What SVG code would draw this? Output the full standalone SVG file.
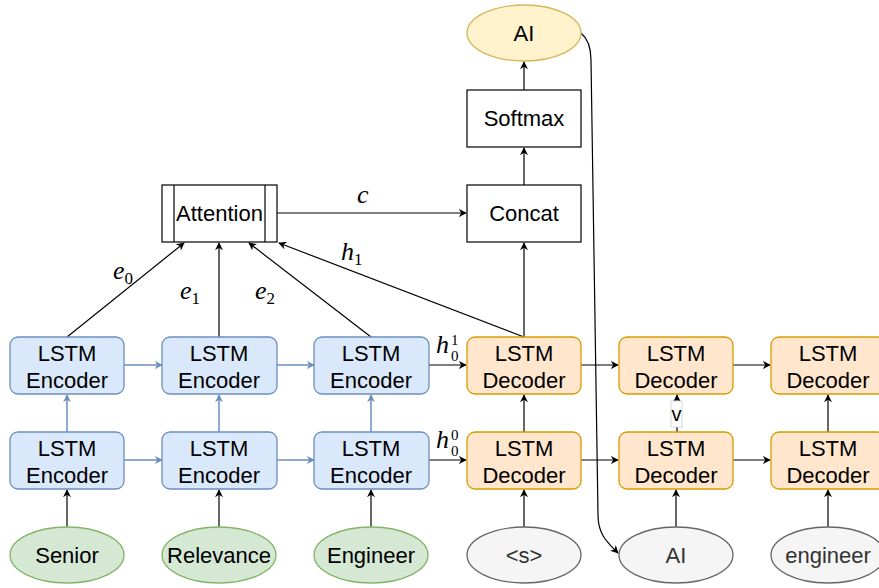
<svg xmlns="http://www.w3.org/2000/svg" width="879" height="588" viewBox="0 0 879 588">
<defs>
<marker id="ab" viewBox="0 0 10 10" refX="9" refY="5" markerWidth="8" markerHeight="8" markerUnits="userSpaceOnUse" orient="auto"><path d="M0,0 L10,5 L0,10 L3,5 Z" fill="#000"/></marker>
<marker id="ag" viewBox="0 0 10 10" refX="9" refY="5" markerWidth="8" markerHeight="8" markerUnits="userSpaceOnUse" orient="auto"><path d="M0,0 L10,5 L0,10 L3,5 Z" fill="#6c8ebf"/></marker>
</defs>
<style>
.enc{fill:#dae8fc;stroke:#6c8ebf;stroke-width:1.3}
.dec{fill:#ffe6cc;stroke:#d79b00;stroke-width:1.3}
.grn{fill:#d5e8d4;stroke:#82b366;stroke-width:1.3}
.gry{fill:#f5f5f5;stroke:#666666;stroke-width:1.3}
.yel{fill:#fff2cc;stroke:#d6b656;stroke-width:1.3}
.box{fill:#fff;stroke:#000;stroke-width:1.2}
.t{font-family:"Liberation Sans",Arial,sans-serif;font-size:22px;fill:#000;text-anchor:middle}
.tg{fill:#333}
.m{font-family:"Liberation Serif","Times New Roman",serif;font-style:italic;font-size:26px;fill:#000}
.s{font-family:"Liberation Serif","Times New Roman",serif;font-size:17px;font-style:normal}
.k{stroke:#000;stroke-width:1.2;fill:none;marker-end:url(#ab)}
.b{stroke:#6c8ebf;stroke-width:1.5;fill:none;marker-end:url(#ag)}
</style>
<g id="connectors">
<path class="b" d="M124,365 L162,365"/>
<path class="b" d="M277,365 L314,365"/>
<path class="b" d="M124,460 L162,460"/>
<path class="b" d="M277,460 L314,460"/>
<path class="b" d="M67,432 L67,395"/>
<path class="b" d="M219,432 L219,395"/>
<path class="b" d="M371,432 L371,395"/>
<path class="k" d="M67,527 L67,490"/>
<path class="k" d="M219,527 L219,490"/>
<path class="k" d="M371,527 L371,490"/>
<path class="k" d="M524,527 L524,490"/>
<path class="k" d="M676,527 L676,490"/>
<path class="k" d="M828,527 L828,490"/>
<path class="k" d="M67,337 L184,243"/>
<path class="k" d="M219,337 L219,243"/>
<path class="k" d="M371,337 L249,243"/>
<path class="k" d="M524,337 L279,243"/>
<path class="k" d="M277,213 L466,213"/>
<path class="k" d="M524,337 L524,243"/>
<path class="k" d="M524,185 L524,148"/>
<path class="k" d="M524,90 L524,62"/>
<path class="k" d="M429,365 L466,365"/>
<path class="k" d="M429,460 L466,460"/>
<path class="k" d="M581,365 L618,365"/>
<path class="k" d="M733,365 L770,365"/>
<path class="k" d="M581,460 L618,460"/>
<path class="k" d="M733,460 L770,460"/>
<path class="k" d="M524,432 L524,395"/>
<path class="k" d="M828,432 L828,395"/>
<path class="k" d="M677,432 L677,395"/>
<rect x="671" y="401" width="11" height="26" fill="#fff" stroke="#ccc" stroke-width="0.8"/>
<text x="676.5" y="421" class="t" style="font-size:20px">v</text>
<path class="k" d="M581,33 C587,38 591,45 591,60 L598,515 C598,535 608,543 618,553"/>
</g>
<g id="labels">
<text x="113" y="279" class="m">e<tspan class="s" dy="5">0</tspan></text>
<text x="180" y="299" class="m">e<tspan class="s" dy="5">1</tspan></text>
<text x="255" y="299" class="m">e<tspan class="s" dy="5">2</tspan></text>
<text x="357" y="203" class="m">c</text>
<text x="341" y="260" class="m">h<tspan class="s" dy="5">1</tspan></text>
<text x="436" y="353" class="m">h</text>
<text x="451" y="345" class="s" style="font-size:15px">1</text>
<text x="451" y="361" class="s" style="font-size:15px">0</text>
<text x="436" y="448" class="m">h</text>
<text x="451" y="440" class="s" style="font-size:15px">0</text>
<text x="451" y="456" class="s" style="font-size:15px">0</text>
</g>
<g id="enc1t"><rect class="enc" x="10" y="337" width="114" height="57" rx="8"/><text class="t" x="67" y="361">LSTM</text><text class="t" x="67" y="388">Encoder</text></g>
<g id="enc2t"><rect class="enc" x="162" y="337" width="115" height="57" rx="8"/><text class="t" x="219" y="361">LSTM</text><text class="t" x="219" y="388">Encoder</text></g>
<g id="enc3t"><rect class="enc" x="314" y="337" width="115" height="57" rx="8"/><text class="t" x="371" y="361">LSTM</text><text class="t" x="371" y="388">Encoder</text></g>
<g id="enc1b"><rect class="enc" x="10" y="432" width="114" height="57" rx="8"/><text class="t" x="67" y="456">LSTM</text><text class="t" x="67" y="483">Encoder</text></g>
<g id="enc2b"><rect class="enc" x="162" y="432" width="115" height="57" rx="8"/><text class="t" x="219" y="456">LSTM</text><text class="t" x="219" y="483">Encoder</text></g>
<g id="enc3b"><rect class="enc" x="314" y="432" width="115" height="57" rx="8"/><text class="t" x="371" y="456">LSTM</text><text class="t" x="371" y="483">Encoder</text></g>
<g id="dec1t"><rect class="dec" x="467" y="337" width="114" height="57" rx="8"/><text class="t" x="524" y="361">LSTM</text><text class="t" x="524" y="388">Decoder</text></g>
<g id="dec2t"><rect class="dec" x="619" y="337" width="114" height="57" rx="8"/><text class="t" x="676" y="361">LSTM</text><text class="t" x="676" y="388">Decoder</text></g>
<g id="dec3t"><rect class="dec" x="771" y="337" width="114" height="57" rx="8"/><text class="t" x="828" y="361">LSTM</text><text class="t" x="828" y="388">Decoder</text></g>
<g id="dec1b"><rect class="dec" x="467" y="432" width="114" height="57" rx="8"/><text class="t" x="524" y="456">LSTM</text><text class="t" x="524" y="483">Decoder</text></g>
<g id="dec2b"><rect class="dec" x="619" y="432" width="114" height="57" rx="8"/><text class="t" x="676" y="456">LSTM</text><text class="t" x="676" y="483">Decoder</text></g>
<g id="dec3b"><rect class="dec" x="771" y="432" width="114" height="57" rx="8"/><text class="t" x="828" y="456">LSTM</text><text class="t" x="828" y="483">Decoder</text></g>
<g id="senior"><ellipse class="grn" cx="67" cy="555" rx="57" ry="28"/><text class="t" x="67" y="563">Senior</text></g>
<g id="relevance"><ellipse class="grn" cx="219" cy="555" rx="57" ry="28"/><text class="t" x="219" y="563">Relevance</text></g>
<g id="engineer"><ellipse class="grn" cx="371" cy="555" rx="57" ry="28"/><text class="t" x="371" y="563">Engineer</text></g>
<g id="start"><ellipse class="gry" cx="524" cy="555" rx="57" ry="28"/><text class="t tg" x="524" y="563">&lt;s&gt;</text></g>
<g id="ai-in"><ellipse class="gry" cx="676" cy="555" rx="57" ry="28"/><text class="t tg" x="676" y="563">AI</text></g>
<g id="engineer-in"><ellipse class="gry" cx="828" cy="555" rx="57" ry="28"/><text class="t tg" x="828" y="563">engineer</text></g>
<g id="attention"><rect class="box" x="162" y="185" width="115" height="57"/><line x1="174" y1="185" x2="174" y2="242" stroke="#000" stroke-width="1.2"/><line x1="265" y1="185" x2="265" y2="242" stroke="#000" stroke-width="1.2"/><text class="t" x="219.5" y="221">Attention</text></g>
<g id="concat"><rect class="box" x="467" y="185" width="114" height="57"/><text class="t" x="524" y="221">Concat</text></g>
<g id="softmax"><rect class="box" x="467" y="90" width="114" height="57"/><text class="t" x="524" y="126">Softmax</text></g>
<g id="ai-out"><ellipse class="yel" cx="524" cy="33" rx="57" ry="28"/><text class="t" x="524" y="41">AI</text></g>
</svg>
